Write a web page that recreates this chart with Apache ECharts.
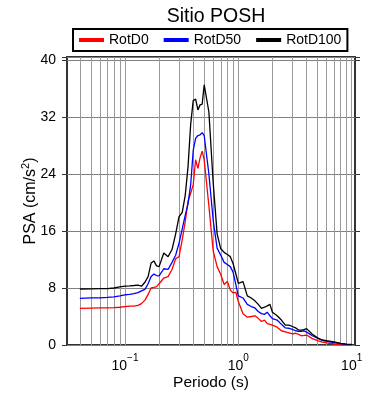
<!DOCTYPE html>
<html>
<head>
<meta charset="utf-8">
<script src="https://cdn.jsdelivr.net/npm/echarts@6/dist/echarts.min.js"></script>
<style>
html,body{margin:0;padding:0;background:#fff;}
#main{width:390px;height:400px;}
</style>
</head>
<body>
<div id="main"></div>
<script>
// ---- data ----
var periods = [0.04,0.05,0.06,0.07,0.08,0.09,0.10,0.11,0.12,0.13,0.14,0.15,0.16,0.17,0.18,0.19,0.20,0.22,0.24,0.26,0.28,0.30,0.32,0.34,0.36,0.38,0.40,0.42,0.44,0.46,0.48,0.50,0.55,0.60,0.65,0.70,0.75,0.80,0.85,0.90,0.95,1.0,1.1,1.2,1.3,1.4,1.5,1.6,1.7,1.8,1.9,2.0,2.2,2.4,2.6,2.8,3.0,3.2,3.4,3.6,3.8,4.0,4.5,5.0,5.5,6.0,7.0,8.0,9.0,10.0];
var rotD0 = [5.15,5.18,5.2,5.22,5.25,5.3,5.4,5.45,5.45,5.55,5.8,6.3,7.1,8.0,8.1,8.2,8.6,9.4,9.6,10.6,12.1,12.4,14.8,17.3,20.2,21.3,22.5,26.0,24.8,26.3,27.2,26.0,19.5,13.2,11.0,9.9,8.5,8.9,7.7,7.3,7.4,6.1,4.4,3.9,4.0,4.1,3.74,3.3,3.5,3.0,2.9,2.8,2.5,2.0,1.85,1.7,1.55,1.65,1.5,1.3,1.35,1.4,0.9,0.6,0.4,0.3,0.14,0.07,0.03,0.02];
var rotD50 = [6.55,6.6,6.62,6.68,6.75,6.9,7.05,7.1,7.2,7.35,7.6,7.8,8.6,9.6,9.95,9.75,9.7,10.7,10.6,11.6,12.6,14.3,16.3,18.2,19.8,22.5,27.3,29.0,29.4,29.5,29.8,29.4,24.0,17.5,13.6,12.6,11.6,11.3,11.0,10.2,8.5,6.9,6.6,5.7,5.4,5.2,4.7,4.4,4.3,4.6,4.1,3.7,3.5,2.9,2.4,2.35,2.2,2.0,1.9,1.9,2.0,1.8,1.3,0.95,0.65,0.5,0.32,0.2,0.1,0.06];
var rotD100 = [7.86,7.88,7.9,7.9,8.0,8.15,8.25,8.3,8.35,8.4,8.25,8.8,9.6,11.5,11.8,11.1,11.0,12.9,12.4,13.4,15.6,18.0,18.6,21.0,25.0,31.0,34.3,34.5,33.0,33.7,33.8,36.5,32.7,22.8,15.6,13.5,13.0,12.7,12.4,11.4,10.0,8.66,8.9,6.9,6.6,6.2,5.7,5.15,5.3,5.5,5.7,4.6,4.1,3.5,2.8,2.8,2.6,2.4,2.1,2.1,2.15,2.3,1.5,1.0,0.7,0.6,0.45,0.23,0.12,0.08];
var seriesNames = ['RotD0','RotD50','RotD100'];
var yTicks = [0,8,16,24,32,40];
var gridPeriods = [0.04,0.05,0.06,0.07,0.08,0.09,0.1,0.2,0.3,0.4,0.5,0.6,0.7,0.8,0.9,1,2,3,4,5,6,7,8,9,10];

var FONT = 'Liberation Sans, Arial, Helvetica, sans-serif';
function pairs(xs, ys){ return xs.map(function(x,i){ return [x, ys[i]]; }); }
function isPow10(v){ var l = Math.log10(v); return Math.abs(l - Math.round(l)) < 1e-6; }

var chart = echarts.init(document.getElementById('main'), null, {renderer:'canvas'});
var option = {
  animation: false,
  backgroundColor: '#fff',
  textStyle: {fontFamily: FONT},
  title: {
    text: 'Sitio POSH', left: 211, top: 2, textAlign: 'center',
    textStyle: {fontSize: 19.5, fontWeight: 'normal', color: '#000', fontFamily: FONT}
  },
  legend: {
    left: 73, top: 29,
    padding: [4, 6, 4, 6],
    borderColor: '#000', borderWidth: 2,
    itemWidth: 25, itemHeight: 4, itemGap: 15,
    icon: 'rect',
    textStyle: {fontSize: 14, color: '#000', fontFamily: FONT},
    data: seriesNames
  },
  grid: {
    left: 67, top: 57, width: 288, height: 288,
    show: true, borderColor: '#333', borderWidth: 2, backgroundColor: 'transparent'
  },
  xAxis: [{
    type: 'log', logBase: 10, min: 0.0308, max: 10.7,
    position: 'bottom',
    axisLine: {show: false},
    axisTick: {show: false},
    splitLine: {show: false},
    axisLabel: {
      margin: 8, color: '#000', showMinLabel: false, showMaxLabel: false,
      formatter: function(v){
        if (!isPow10(v)) return '';
        var e = Math.round(Math.log10(v));
        return '{b|10}{s|' + (e < 0 ? '\u2212' + (-e) : e) + '}';
      },
      rich: {
        b: {fontSize: 14, fontFamily: FONT, color: '#000', lineHeight: 20, verticalAlign: 'bottom'},
        s: {fontSize: 10, fontFamily: FONT, color: '#000', lineHeight: 20, verticalAlign: 'top'}
      }
    },
    name: 'Periodo (s)', nameLocation: 'middle', nameGap: 30, nameMoveOverlap: false,
    nameTextStyle: {fontSize: 15.5, color: '#000', fontFamily: FONT}
  }, {
    type: 'log', logBase: 10, min: 0.0308, max: 10.7,
    position: 'top',
    axisLine: {show: false},
    axisTick: {show: true, inside: false, length: 5, lineStyle: {color: '#333', width: 1}},
    axisLabel: {show: false},
    splitLine: {show: false}
  }],
  yAxis: [{
    type: 'value', min: 0, max: 40.42, interval: 8,
    axisLine: {show: false},
    axisTick: {show: true, inside: false, length: 5, lineStyle: {color: '#333'}},
    splitLine: {show: true, lineStyle: {color: '#808080', width: 1}},
    axisLabel: {
      margin: 11, fontSize: 14, color: '#000', fontFamily: FONT,
      formatter: function(v){ return yTicks.indexOf(v) >= 0 ? String(v) : ''; }
    },
    name: 'PSA (cm/s{s|2})', nameLocation: 'middle', nameGap: 25, nameRotate: 90, nameMoveOverlap: false,
    nameTextStyle: {
      fontSize: 16, color: '#000', fontFamily: FONT,
      rich: {s: {fontSize: 11, fontFamily: FONT, color: '#000', verticalAlign: 'top', lineHeight: 22}}
    }
  }, {
    type: 'value', min: 0, max: 40.42, interval: 8, position: 'right',
    axisLine: {show: false},
    axisTick: {show: true, inside: false, length: 5, lineStyle: {color: '#333'}},
    axisLabel: {show: false},
    splitLine: {show: false}
  }],
  series: [{
    type: 'line', name: '_grid', data: [], z: 1, silent: true,
    markLine: {
      silent: true, symbol: 'none', z: 1, animation: false,
      label: {show: false},
      lineStyle: {color: '#9a9a9a', width: 1, type: 'solid'},
      data: gridPeriods.map(function(p){ return {xAxis: p}; })
    }
  }, {
    type: 'line', name: seriesNames[0], data: pairs(periods, rotD0), z: 3,
    showSymbol: false, symbol: 'none', color: '#ff0000', lineStyle: {width: 1.3, color: '#ff0000'}
  }, {
    type: 'line', name: seriesNames[1], data: pairs(periods, rotD50), z: 3,
    showSymbol: false, symbol: 'none', color: '#0000ff', lineStyle: {width: 1.3, color: '#0000ff'}
  }, {
    type: 'line', name: seriesNames[2], data: pairs(periods, rotD100), z: 3,
    showSymbol: false, symbol: 'none', color: '#000000', lineStyle: {width: 1.3, color: '#000000'}
  }]
};
chart.setOption(option);
</script>
</body>
</html>
